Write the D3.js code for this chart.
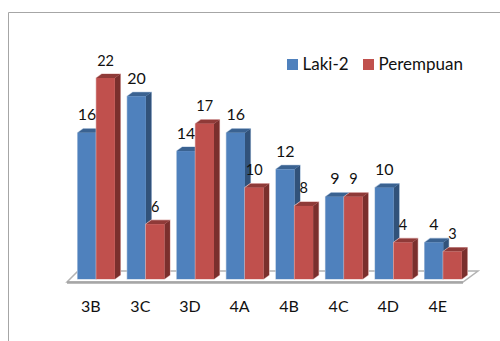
<!DOCTYPE html>
<html>
<head>
<meta charset="utf-8">
<script src="https://cdn.jsdelivr.net/npm/d3@7"></script>
<style>
    html, body { margin: 0; padding: 0; background: #fff; }
    svg { display: block; }
    text { font-family: Lato, "Open Sans", sans-serif; fill: #111; }
</style>
</head>
<body>
<div id="chart"></div>
<script>
const categories = ['3B', '3C', '3D', '4A', '4B', '4C', '4D', '4E'];
const lakiValues = [16, 20, 14, 16, 12, 9, 10, 4];
const perempuanValues = [22, 6, 17, 10, 8, 9, 4, 3];
const seriesNames = ['Laki-2', 'Perempuan'];

const width = 500, height = 341;
const svg = d3.select('#chart').append('svg')
    .attr('width', width)
    .attr('height', height);

// chart frame, only top and left are visible in the picture
svg.append('path')
    .attr('d', 'M8.5,341V12.5H500')
    .attr('fill', 'none')
    .attr('stroke', '#a6a6a6')
    .attr('stroke-width', 1);

const baseY = 279;
const depthX = 5.5, depthY = 4;

const x0 = d3.scaleBand()
    .domain(categories)
    .range([71.5, 468])
    .paddingInner(0.25)
    .paddingOuter(0.125);
const x1 = d3.scaleBand()
    .domain(seriesNames)
    .range([0, x0.bandwidth()]);
const y = d3.scaleLinear()
    .domain([0, 22])
    .range([baseY, 78]);

const colors = {
    'Laki-2': {front: '#4f81bd', side: '#31527a', top: '#3a6291', edge: '#b4c8e0'},
    'Perempuan': {front: '#c0504d', side: '#7a2f2d', top: '#8f3a38', edge: '#e3b9b8'}
};

// floor of the 3d chart
svg.append('polygon')
    .attr('points', [[67, 282], [463, 282], [478, 271], [78, 271]].join(' '))
    .attr('fill', '#fff')
    .attr('stroke', '#b3b3b3')
    .attr('stroke-width', 1.5);
svg.append('line')
    .attr('x1', 67).attr('x2', 463)
    .attr('y1', 282.5).attr('y2', 282.5)
    .attr('stroke', '#a6a6a6')
    .attr('stroke-width', 2.5);

let rows = categories.map((c, i) => ({
    category: c,
    bars: [
        {series: seriesNames[0], value: lakiValues[i]},
        {series: seriesNames[1], value: perempuanValues[i]}
    ]
}));

let groups = svg.selectAll('.group')
    .data(rows)
    .enter()
    .append('g')
    .attr('class', 'group')
    .attr('transform', d => 'translate(' + x0(d.category) + ',0)');

let bars = groups.selectAll('.bar')
    .data(d => d.bars)
    .enter()
    .append('g')
    .attr('class', 'bar');

// pale halo round each bar
bars.append('polygon')
    .attr('fill', d => colors[d.series].edge)
    .attr('stroke', d => colors[d.series].edge)
    .attr('stroke-width', 1.2)
    .attr('points', d => {
        let l = x1(d.series), r = l + x1.bandwidth(), t = y(d.value);
        return [[l, baseY], [l, t], [l + depthX, t - depthY], [r + depthX, t - depthY], [r + depthX, baseY - depthY], [r, baseY]].join(' ');
    });

// side face
bars.append('polygon')
    .attr('fill', d => colors[d.series].side)
    .attr('points', d => {
        let r = x1(d.series) + x1.bandwidth(), t = y(d.value);
        return [[r, t], [r + depthX, t - depthY], [r + depthX, baseY - depthY], [r, baseY]].join(' ');
    });

// top face
bars.append('polygon')
    .attr('fill', d => colors[d.series].top)
    .attr('points', d => {
        let l = x1(d.series), r = l + x1.bandwidth(), t = y(d.value);
        return [[l, t], [l + depthX, t - depthY], [r + depthX, t - depthY], [r, t]].join(' ');
    });

// front face
bars.append('rect')
    .attr('x', d => x1(d.series))
    .attr('y', d => y(d.value))
    .attr('width', x1.bandwidth())
    .attr('height', d => baseY - y(d.value))
    .attr('fill', d => colors[d.series].front);

// value labels
bars.append('text')
    .attr('x', d => x1(d.series) + x1.bandwidth() / 2)
    .attr('y', d => y(d.value) - 12.5)
    .attr('text-anchor', 'middle')
    .style('font-size', d => d.series === 'Perempuan' ? '14.5px' : '16px')
    .text(d => d.value);

// category labels sit a little left of the bars, as in the picture
svg.selectAll('.cat')
    .data(categories)
    .enter()
    .append('text')
    .attr('class', 'cat')
    .attr('x', d => x0(d) + x0.bandwidth() / 2 - 5.5)
    .attr('y', 312)
    .attr('text-anchor', 'middle')
    .style('font-size', '16px')
    .text(d => d);

// legend
let legendX = [287, 363];
let legend = svg.selectAll('.legend')
    .data(seriesNames)
    .enter()
    .append('g')
    .attr('class', 'legend')
    .attr('transform', (d, i) => 'translate(' + legendX[i] + ',59)');
legend.append('rect')
    .attr('width', 11)
    .attr('height', 11)
    .attr('fill', d => colors[d].front);
legend.append('text')
    .attr('x', 15.5)
    .attr('y', 11)
    .style('font-size', '17px')
    .text(d => d);
</script>
</body>
</html>
